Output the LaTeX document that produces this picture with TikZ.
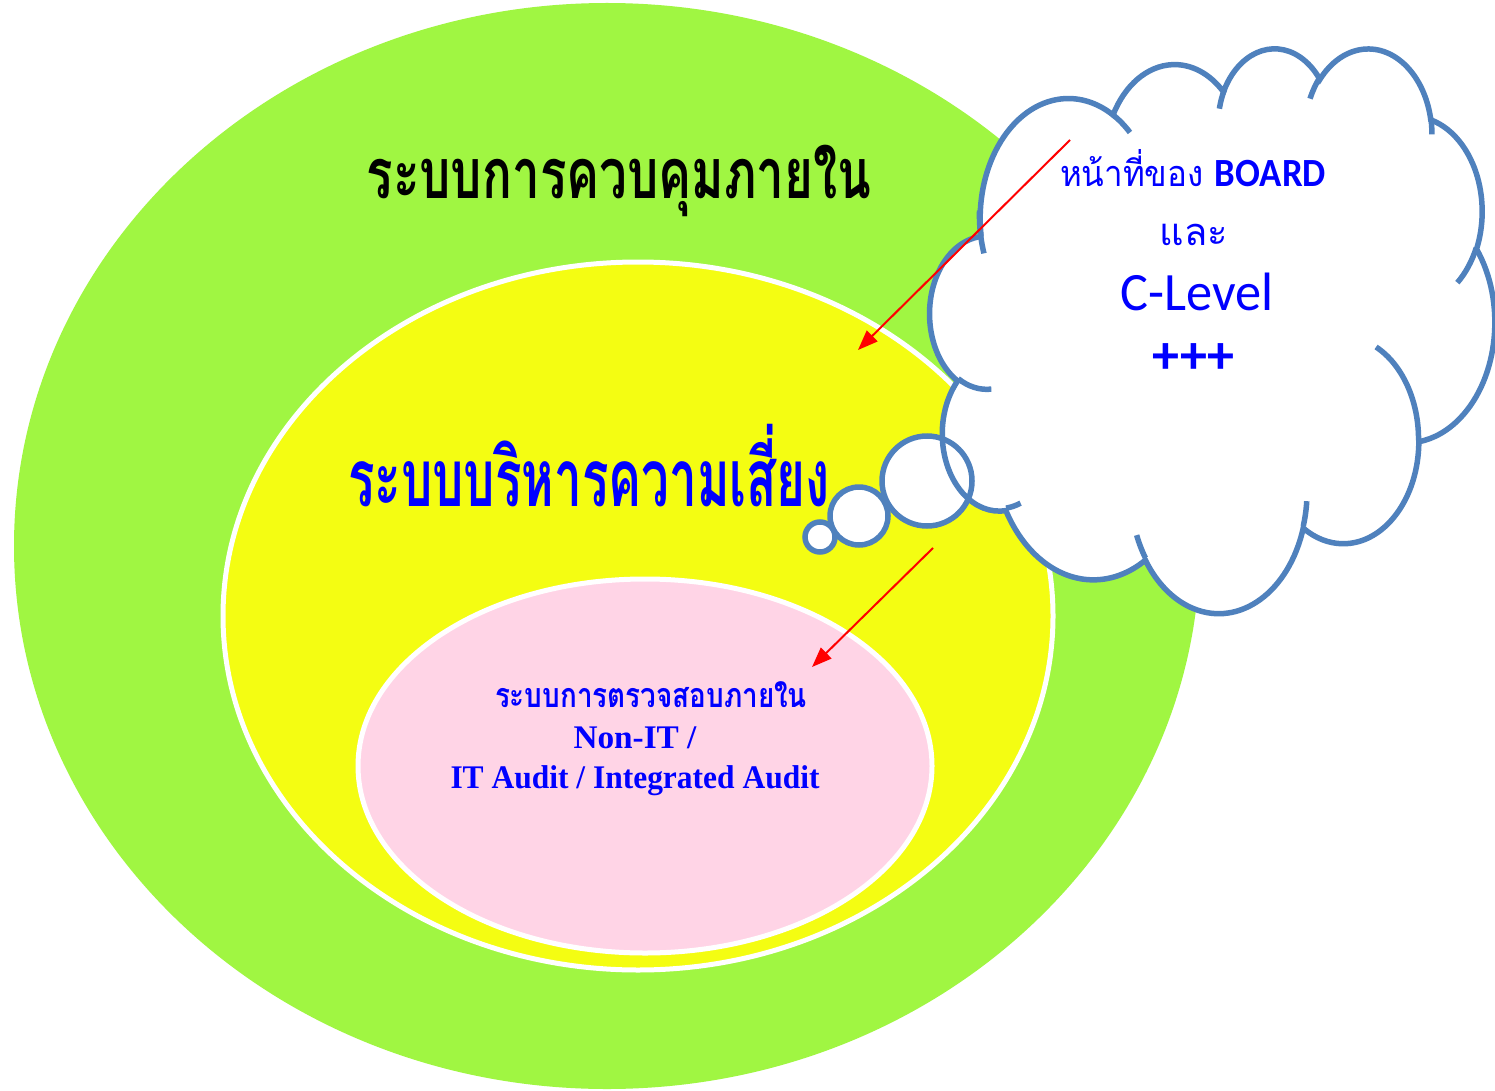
\documentclass[tikz,border=0pt]{standalone}
\usepackage{fontspec}
\usepackage{graphicx}
\usetikzlibrary{arrows.meta}
\newfontfamily\thaifont[Script=Thai]{Loma}
\newfontfamily\calfont{Carlito}
\newfontfamily\latinfont{Liberation Serif}

\definecolor{lime}{RGB}{160,246,66}
\definecolor{lemon}{RGB}{244,253,18}
\definecolor{blush}{RGB}{255,212,230}
\definecolor{cloudline}{RGB}{79,129,189}
\definecolor{ink}{RGB}{0,0,255}

% stretch a line of text to a given width, keeping its height
\newcommand\fitw[2]{\resizebox{#1}{\height}{#2}}

% elliptic arcs given with direction angles, stored as parametric ones
\makeatletter
\newcommand\visarc[5]{%
  \pgfmathsetmacro\va@s{atan2((#2)*sin(#4),(#3)*cos(#4))}%
  \pgfmathsetmacro\va@e{atan2((#2)*sin((#4)+(#5)),(#3)*cos((#4)+(#5)))}%
  \pgfmathsetmacro\va@d{\va@e-\va@s}%
  \pgfmathsetmacro\va@d{\va@d-360*round((\va@d-(#5))/360)}%
  \expandafter\xdef\csname arcS#1\endcsname{\va@s}%
  \expandafter\xdef\csname arcD#1\endcsname{\va@d}%
  \expandafter\xdef\csname arcX#1\endcsname{#2}%
  \expandafter\xdef\csname arcY#1\endcsname{#3}%
}
\makeatother

% cloud outline lobes
\visarc{1}{15.632}{21.273}{-190.4875}{123.7805}
\visarc{2}{12.345}{16.822}{-144.1024}{89.9452}
\visarc{3}{10.104}{13.762}{-145.8079}{99.7230}
\visarc{4}{11.243}{15.266}{-130.9861}{117.2417}
\visarc{5}{12.345}{16.836}{-78.7089}{109.0269}
\visarc{6}{15.683}{21.343}{-46.2673}{130.2690}
\visarc{7}{13.391}{18.211}{0.6250}{114.0333}
\visarc{8}{15.630}{21.331}{22.4516}{115.1726}
\visarc{9}{17.870}{24.405}{66.2426}{75.7110}
\visarc{10}{10.093}{13.699}{-274.9421}{146.7356}
\visarc{11}{10.058}{13.762}{-246.8285}{152.5189}
% inner creases
\visarc{ca}{10.058}{13.762}{86.7420}{26.4295}
\visarc{cb}{10.093}{13.699}{73.6105}{11.4475}
\visarc{cc}{15.630}{21.331}{137.6242}{14.0811}
\visarc{cd}{15.630}{21.331}{6.4533}{15.9984}
\visarc{ce}{13.391}{18.211}{-70.2924}{70.9174}
\visarc{cf}{12.345}{16.836}{30.3180}{27.7515}
\visarc{cg}{11.243}{15.266}{-13.7443}{14.8589}
\visarc{ch}{11.243}{15.266}{-149.1815}{18.1954}
\visarc{ci}{10.104}{13.762}{-163.4943}{19.0020}
\visarc{cj}{15.632}{21.273}{-66.7070}{12.3194}
\visarc{ck}{15.632}{21.273}{155.6472}{27.6019}

\tikzset{
  varc/.style={start angle=\csname arcS#1\endcsname,
               delta angle=\csname arcD#1\endcsname,
               x radius=\csname arcX#1\endcsname,
               y radius=\csname arcY#1\endcsname},
}

\newcommand\cloudoutline{(9.028,33.264) arc[varc=1] arc[varc=2] arc[varc=3]
  arc[varc=4] arc[varc=5] arc[varc=6] arc[varc=7] arc[varc=8] arc[varc=9]
  arc[varc=10] arc[varc=11] -- cycle}

\begin{document}
\begin{tikzpicture}[x=1pt,y=-1pt,
  band/.style={draw=white, line width=5pt},
  outline/.style={draw=cloudline, line width=5.5pt},
  bigthai/.style={inner sep=0pt, anchor=base, font=\thaifont\bfseries},
  boxtext/.style={inner sep=0pt, anchor=base, text=ink},
  pointer/.style={draw=red, line width=2pt, -{Triangle[length=20pt,width=15pt]}}]
\useasboundingbox (0,0) rectangle (1495,1091);
\fill[white] (0,0) rectangle (1495,1091);

% nested systems
\fill[lime] (607,546) ellipse [x radius=593, y radius=543];
\path[band, fill=lemon] (638,616) ellipse [x radius=415, y radius=354];
\path[band, fill=blush] (645,766) ellipse [x radius=287, y radius=187];

\node[bigthai, text=black, font=\thaifont\bfseries\fontsize{70}{80}\selectfont]
  (ic) at (619,199) {\fitw{505pt}{ระบบการควบคุมภายใน}};
\node[bigthai, text=ink, font=\thaifont\bfseries\fontsize{80}{90}\selectfont]
  (rm) at (589,506) {\fitw{482pt}{ระบบบริหารความเสี่ยง}};

\node[boxtext, font=\thaifont\bfseries\fontsize{34}{40}\selectfont]
  (ia) at (651,707) {\fitw{312pt}{ระบบการตรวจสอบภายใน}};
\node[boxtext, font=\latinfont\bfseries\fontsize{33}{40}\selectfont]
  (nit) at (635,748) {\fitw{123pt}{Non-IT /}};
\node[boxtext, font=\latinfont\bfseries\fontsize{33}{40}\selectfont]
  (ita) at (635,788) {\fitw{369pt}{IT Audit / Integrated Audit}};

% thought cloud with its trail of bubbles
\begin{scope}[shift={(930,47)}, xscale=5.646, yscale=5.646]
  \fill[white] \cloudoutline;
\end{scope}
\fill[white] (927,481) circle[radius=45];
\fill[white] (859,516) circle[radius=29];
\fill[white] (820,537) circle[radius=15];
\begin{scope}[shift={(930,47)}, xscale=5.646, yscale=5.646]
  \draw[outline] \cloudoutline;
  \draw[outline]
    (10.863,60.595) arc[varc=ca]
    (16.037,80.785) arc[varc=cb]
    (38.144,90.486) arc[varc=cc]
    (66.729,80.442) arc[varc=cd]
    (79.002,53.134) arc[varc=ce]
    (96.755,35.542) arc[varc=cf]
    (88.713,12.560) arc[varc=cg]
    (67.310,9.148)  arc[varc=ch]
    (51.252,10.926) arc[varc=ci]
    (32.407,12.019) arc[varc=cj]
    (9.553,36.549)  arc[varc=ck];
\end{scope}
\draw[outline] (927,481) circle[radius=45];
\draw[outline] (859,516) circle[radius=29];
\draw[outline] (820,537) circle[radius=15];

\node[boxtext, font=\thaifont\fontsize{36}{40}\selectfont]
  (duty) at (1193,187) {\fitw{266pt}{หน้าที่ของ {\calfont\bfseries\fontsize{40}{44}\selectfont BOARD}}};
\node[boxtext, font=\thaifont\fontsize{38}{44}\selectfont]
  (and) at (1194,245) {และ};
\node[boxtext, font=\calfont\fontsize{54}{60}\selectfont]
  (clv) at (1197,310) {\fitw{153pt}{C-Level}};
\node[inner sep=0pt, text=ink, font=\calfont\bfseries\fontsize{54}{60}\selectfont]
  (more) at (1193.5,359) {+++};

% pointers from the cloud
\coordinate (p1s) at (1070,140);
\coordinate (p1e) at (858,350);
\coordinate (p2s) at (933,548);
\coordinate (p2e) at (812,667);
\draw[pointer] (p1s) -- (p1e);
\draw[pointer] (p2s) -- (p2e);
\end{tikzpicture}
\end{document}
